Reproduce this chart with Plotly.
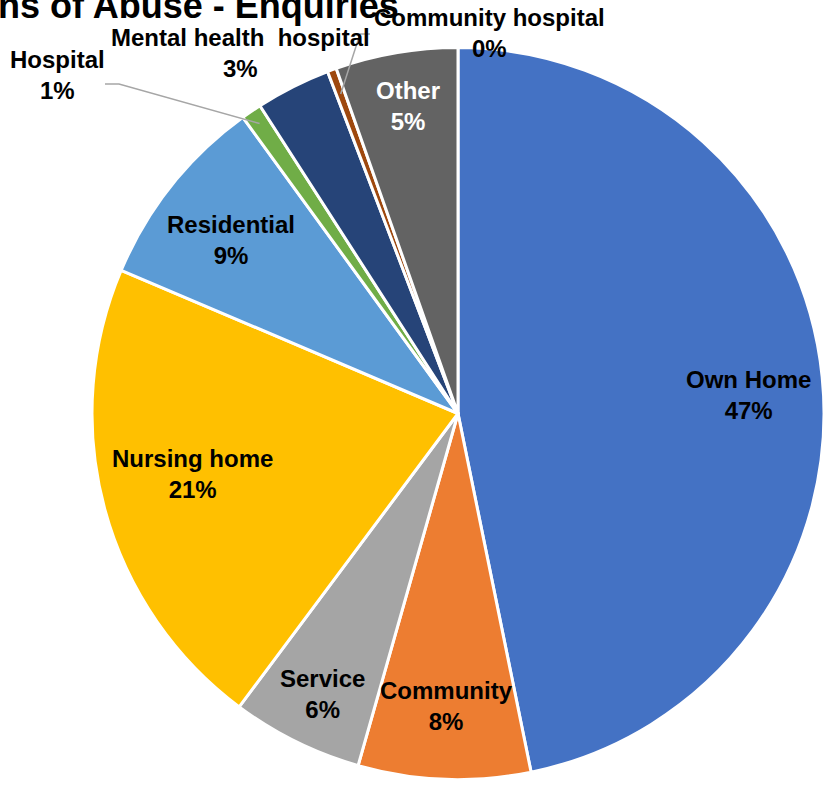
import math
import plotly.graph_objects as go

# Share of enquiries by location of abuse (per cent)
categories = ["Own Home", "Community", "Service", "Nursing home", "Residential",
              "Hospital", "Mental health  hospital", "Community hospital", "Other"]
values = [46.8, 7.6, 5.8, 21.2, 8.6, 0.9, 3.3, 0.4, 5.4]
colors = ["#4472C4", "#ED7D31", "#A5A5A5", "#FFC000", "#5B9BD5",
          "#70AD47", "#264478", "#9E480E", "#636363"]
title_text = "Locations of Abuse - Enquiries"

W, H = 827, 788
CX, CY, R = 458, 413.5, 366
FONT = "Liberation Sans, Arial, sans-serif"


def px(x):
    return x / W


def py(y):
    return 1 - y / H


# Inside labels: (angle nudge in degrees, radius fraction, text colour)
inside_style = {
    "Own Home": (2.2, 0.795, "black"),
    "Community": (0.0, 0.80, "black"),
    "Service": (-0.5, 0.85, "black"),
    "Nursing home": (2.2, 0.745, "black"),
    "Residential": (-1.2, 0.78, "black"),
    "Other": (0.5, 0.85, "white"),
}
# Outside labels: text centre (px), optional leader (start radius fraction, elbow, end)
outside_style = {
    "Hospital": ((57, 75), (0.96, (119, 84), (105, 84))),
    "Mental health  hospital": ((240, 53), None),
    "Community hospital": ((489, 33), (0.93, (360, 34), (370, 34))),
}

fig = go.Figure(go.Pie(
    labels=categories, values=values, sort=False, direction="clockwise",
    rotation=0, textinfo="none", hoverinfo="label+percent",
    marker=dict(colors=colors, line=dict(color="white", width=3)),
    domain=dict(x=[px(CX - R), px(CX + R)], y=[py(CY + R), py(CY - R)]),
    showlegend=False,
))

total = sum(values)
annotations = []
shapes = []
cum = 0.0
for name, v in zip(categories, values):
    mid = (cum + v / 2) / total * 360.0
    cum += v
    pct = round(v / total * 100)
    label = name.replace("  ", "\u00a0 ")
    text = f"{label}<br>{pct}%"
    if name in inside_style:
        nudge, rf, col = inside_style[name]
        a = math.radians(mid + nudge)
        x = CX + rf * R * math.sin(a)
        y = CY - rf * R * math.cos(a)
    else:
        (x, y), leader = outside_style[name]
        col = "black"
        if leader is not None:
            rf, (ex, ey), (tx, ty) = leader
            a = math.radians(mid)
            sx = CX + rf * R * math.sin(a)
            sy = CY - rf * R * math.cos(a)
            path = f"M {px(sx)},{py(sy)} L {px(ex)},{py(ey)} L {px(tx)},{py(ty)}"
            shapes.append(dict(type="path", xref="paper", yref="paper", path=path,
                               line=dict(color="#A6A6A6", width=1.5)))
    annotations.append(dict(
        x=px(x), y=py(y), xref="paper", yref="paper", text=text,
        showarrow=False, xanchor="center", yanchor="middle", align="center",
        font=dict(family=FONT, size=24, color=col, weight="bold"),
    ))

annotations.append(dict(
    x=px(401), y=py(5), xref="paper", yref="paper", text=title_text,
    showarrow=False, xanchor="right", yanchor="middle",
    font=dict(family=FONT, size=36, color="black", weight="bold"),
))

fig.update_layout(
    width=W, height=H, margin=dict(l=0, r=0, t=0, b=0),
    paper_bgcolor="white", plot_bgcolor="white",
    annotations=annotations, shapes=shapes,
)

fig.write_html("out.html")
